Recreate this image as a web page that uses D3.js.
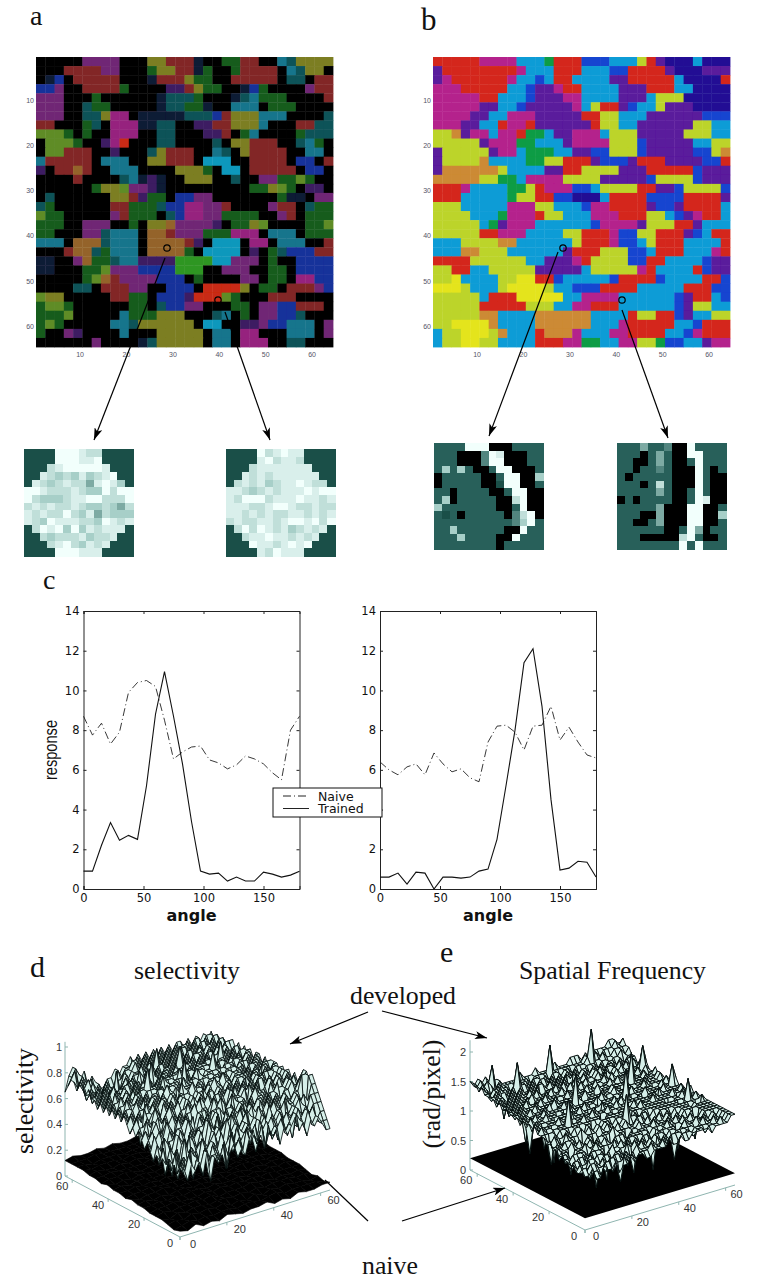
<!DOCTYPE html>
<html>
<head>
<meta charset="utf-8">
<script src="https://cdn.jsdelivr.net/npm/d3@7"></script>
<style>
  html, body { margin: 0; padding: 0; background: #fff; }
  svg { display: block; }
</style>
</head>
<body>
<div id="chart"></div>
<script>
// orientation maps, one letter per 2x2 block of map cells
const mapARows = [
"KKKKKmmmmKKKyyrrrnKKggrrKKctyyyy","KKKrrrrmmKKKgyyrrngKKgrrrrKctyyK","KnbKrrrrrKKKnrrryggKKrrrrrKttKrr","bbmKKrrrrgKKKKppryggKKnbgKKKKmrr",
"mmmKKKgKKKKKKntttgKKKntcgggKKKKr","mmmKKtggKKKKKnttggnKKcccKgggKKKK","mmmKKttyvvKnnnnntttbryyycccKKKKt","rrKKKgtKvvvnnttKKpprryyycKKKrrtt",
"lllgKgKKvvvKKttKKKpprKgcKKKKgttt","KlllgKKpvRKKKttKKKKtKyyrrrKKtcgK","KllrrrKKpKKKtyrrrKKctKyrrrrKKccK","crrrrrKcccKKyyrrrKCCCKKrrrrKbbKr",
"pKrrorKKcccKKKKyyygKCCKrrrrrKbbK","KKKKrKKKKtcnpnKKyyyKKtKKmmgglgKK","KKKKKKgyylmmpnKKKKKKKKKggylgKppK","KtKKKKKKyyrpggKbbmmKKKKKKKgnnKmm",
"tgKKKKKKrrgggtbbvvmmrKKKKmrrKtgg","lggKKKKKmrgggKtbvvmmggggKKmrKggg","gggKKmmmKKgKyyommmmpKggylKKKKggl","ggKKKmmtcccKoormmmgggvvvKcccKggg",
"cccKoootcccKoooorpKCCCKvvKcccKKr","KKKrootgcccKoooogKCCCCKpKgtbbbrr","nnKKmoggtccppppGGGGCCmmmKgKKbbbb","nnKKKgglmmmbbbbGGGKKmmmKKggKbbbb",
"KKKKKglormmmmbbbKgKKKKmmKggKvvbb","KKKKttKrrrmmKKbbbKRRRRyKggKrrrmb","lyyKKKKKrrggKbbbpRRRlgKKKrrrKKKK","gllgKKKKKKggKtbbmmKKKggKmmbbrrrK",
"ggglKKKKKcgggyyyKKKtcKgKmmbbtKKK","glgKKKKKcctyyyyyyKCCKKppmbbcccKm","gKKmpKKKKcKKKyyyyyKccKvvKKKcccKm","KKKKKKmKKKKntyyyyyKccKvvvKKttKKK"
];
const mapBRows = [
"RRRRRMMMMCCCGRRRBBBCCCYRPNNNCNNN","PRRRRRRRRMCCCRRRCCCBBRRRRPNNNPPP","PMRRRRRRMCCBCRRCCCCPPRRRRRCNNNNR","MMMRRRRRCCBPPMRRCCCCPPPRRRCCNNNN",
"MMMMMRRCCCBPPPMMCCCCPPPCYYYNNNNN","MMMMMPPCCBPPPPPMCYRRPBCCYPPPNNNN","MMMMPPCCMMMPPPPPRRYYCCCPPPPPPBBB","MMMPPCCRMMRPPPPPPRYYCCPPPPPPYYCC",
"YYOPMMCMMRGGCPPMMMCYYYPPPPPYYYCC","YYYYYPMMMGGCCCPMMMMYYYBPPPPPCCYY","PYYYYYPMMCGGGCCPPBBYYYBPPPPPBBYO","PYYYYOCCCCGGYYRRRPBBBPRRRPPPPBBR",
"POOOOOOYCCCCPPRRYYYYPPPRRRRRBPPP","OOOOOYYGGCMMMMYYYYPPPPPBYYYYBPPP","RRRMCCCCGGYRMMMBBCYYYYRRPPBYYYYB","RRRCCCCCGYYRRBBNNNCRRRRBBBBRRRRP",
"YYYCCCCCMMMYYCCCBMMRRRRPBBPRRRRC","YYYYCCCGMMMRYYCCCMMMRRRYYCBPMRRC","YYYYYCGPMMMCCCCCCBMMMMPYYYRRPCCC","YYYYYRRMMMCCCCYYRRRMBBYYRRRPBCRR",
"CCCYYYYOOCCCCCCYRRRMBBCYRRRCCCCR","CCCOOYYYCCCCCCPRRRYYYBBCRRRCCCMR","RRRRYYYYYYCCPPPMRYYYYBBRRCCCCBPP","YYRRCCYYYYYPPPPPCYYYYYMRCCCCRBPP",
"YYLCCCCYYLLRRBCCCCCBRRRRBCCCCRRB","LLLYCCCYLLLLYCCBBBRRRRCCCCCRRRBB","YYYYYCRRRLLLLLCCMMMMCCCCCCBPRRCB","YYYYYRRRRRYYYCCMMRRRCCCCCCBPYYCC",
"YYYYYOOCCCCOOOOOOCCCCRYYRRBPCCYY","YYLLLLOCCCCOOOOOOCCCMRRRRRCCBRRR","CYYLLLYOCCCROOOMCCCMMRRRRCCBMRRR","CYYLLYYCCCCRRRMMGGCCMMYYGBBCCPMM"
];
const mapAColors = {
  K: "#040404", n: "#0e1a36", p: "#3c1c62", m: "#702874", v: "#96247e", r: "#822828", R: "#c82a12",
  o: "#94642a", y: "#7c7e22", l: "#5f8c26", g: "#175c1f", G: "#2f9622", t: "#0c5258", c: "#18748c",
  C: "#0f98bc", b: "#18309a"
};
const mapBColors = {
  R: "#d4281c", M: "#b4208c", P: "#5a1a9c", B: "#1844d0", N: "#200c94", C: "#109cd6",
  G: "#0c9c44", Y: "#bcd42a", L: "#e4e41c", O: "#cc8a34"
};
const mapTicks = [10, 20, 30, 40, 50, 60];

// receptive field patches, grey level 0 (black) to 9 (white)
const patchALeft = ["22229998772222","22229998892222","22278999998222","22876768678922","28767877589862","99877787669799","97666788997779","78787787667657","87877976857666","87698887769878","27989696878882","22767778677822","22278976878222","22229998882222"];
const patchARight = ["22229789882222","22228978872222","22278888888222","22878788888822","27878678898772","88767878889899","87999788898878","88877899877877","88787877887878","78778878998979","27979878678782","22788988787822","22298878989222","22228798882222"];
const patchBLeft = ["33339990003333","33300049800033","33300049900033","36363003990003","03333300399006","03333300299003","33033330039900","36033333007900","63333333003900","32303333304790","33333333334693","33633333300933","33363333009333","33333333033333"];
const patchBRight = ["33353340093333","33303530099333","33003530039333","33033430009303","30333330009300","33303730009300","33333530039300","03033330039800","33333500099003","33300500099006","33003500099003","33333300395033","33300000793003","33333333939333"];

// orientation tuning curves
const angles = [0,7.5,15,22.5,30,37.5,45,52.5,60,67.5,75,82.5,90,97.5,105,112.5,120,127.5,135,142.5,150,157.5,165,172.5,180];
const naiveLeft = [8.7,7.75,8.35,7.3,7.9,9.9,10.4,10.5,10.2,8.5,6.55,6.9,7.15,7.2,6.5,6.35,6.05,6.25,6.7,6.55,6.3,5.85,5.5,8.0,8.7];
const trainedLeft = [0.9,0.9,2.2,3.35,2.45,2.7,2.5,5.2,8.8,10.95,8.7,6.3,3.4,0.9,0.75,0.8,0.4,0.6,0.4,0.4,0.85,0.75,0.6,0.7,0.9];
const naiveRight = [6.4,6.0,5.75,6.15,6.3,5.75,6.85,6.3,5.9,6.05,5.6,5.4,7.4,8.2,8.25,7.9,7.0,8.2,8.25,9.2,7.5,8.15,7.4,6.75,6.6];
const trainedRight = [0.6,0.6,0.8,0.25,0.85,0.8,0,0.6,0.6,0.55,0.6,0.9,1,2.5,5.2,8,11.4,12.1,9.2,4.5,0.95,1.05,1.4,1.35,0.6];
const responseTicks = [0,2,4,6,8,10,12,14];
const angleTicks = [0,50,100,150];
const legendLabels = ["Naive","Trained"];

// developed selectivity surface, z = 0.36 + digit * 0.058
const selectivityRows = [
"3213231403231342324534253424345342434322","2324132413324253425343524345342543534333","3132423142432425342545345342534534545344","2423143253243534253453453454345435454555",
"3142324325345342535454354535454545654666","1324253134435453645456453546455645456577","3243142543536454536545654654565465565788","2413254354546536455656456545656546566887",
"3254352435455654646564656456565656556778","2435443546546565654665564656656565667678","3524354556465654666546566565665667567667","4345465465654666556765765656766576667676",
"3456354656566756657665676675676657676767","4546546565657667656776576676767567677676","5465565676566765767667675767676776767677","4556576567675767676776767676767677667676",
"5647566576766767677676776767677676777677","4565667657676777676767876776777677676776","5656576767767676787767677876777767767677","6565667676767768776776776777677676777767",
"5656767677678767777677677767677767676777","6566576767767767687767776776776776777676","5657667676677677768777677767677767667767","6566767767776767776767876777776767776776",
"5657676677677687677776776777767776767677","6566676767766767776877677767676767776767","5657667676677676777767776777767767676776","6565767667676767676777676777676776767677",
"5656566776757667677667767676777667676776","6565676567665766767767677767676776767667","6656565666566576676776767676767667676776","7565656555655657667667676767676776767667",
"6656565455566576676776767676777676767666","7565654545555656667667676767666767676777","7656545454456566767676767676776767767666","6767554544545656676767676767667676676776",
"7676565454454656767676767676776767767666","7867654545445566776767676767677676676776","6787656454544656667676767676766767767766","5787675654455656676767676767677676767675"
];
// single cells that stick out of the selectivity sheet: column, row, height
const selectivitySpikes = [[5,2,.38],[9,4,.36],[13,1,.4],[17,6,.42],[22,3,.42],[26,8,.44],[31,4,.45],[3,9,.42],[7,12,.44],[12,10,.42],[16,13,.46],[21,11,.46],[27,13,.5],[34,10,.5],[37,6,.45],[2,16,.5],[6,19,.5],[11,17,.5],[15,20,.5],[19,16,.52],[24,19,.52],[30,16,.52],[35,19,.55],[10,24,.92],[18,22,.94],[27,24,.9],[14,28,.88],[23,30,.9],[32,28,.88],[8,32,.82],[20,34,.86]];
// developed spatial frequency surface, z = 0.6 + digit * 0.1 rad/pixel
const frequencyRows = [
"3342243342334344334444544544555554555566","4423324423443434445445454455545545556566","3334433244334345444544545554545555565566","3423343433443434454545454455555456556566",
"4332443344344354545445554554565565656566","3443323443453445454554455555655555566666","4334434334344454555545554565556565566666","4423343444453544455555455556565556566666",
"5334444345444455545455556555656566666666","4443344544545454555556555655656566656666","5344544445455556555556556556565666656676","5544454545534555565655665565666666666666",
"6454555445555656525656656656666666266676","5565465556565656656666565666666666666666","6556556566366656666666266666666656667666","6666566666666666266666666676666666666767",
"6762666666667666666626666766667666676666","7666676666266667666766666663666766666676","6766666766666666766666766666666667666666","7676266666676666662766667666663666676666",
"6766666676666676666666676666666766666667","7676667666666666762666666676666666667666","6766766666366766666676666266676666666676","7676666766666676666666766666666667666666",
"7767666676666766636666676676666666766676","7676676666766666676666666676626666676676","7767666766667666666676626667666676666666","8676766676666766667666667666666666667667",
"7767676666766636676666766666767666666666","8776766766667666666676666726666667667676","7867676676666766676666766666767666676667","8776767666766667666676667666676676667676",
"8877676766667666676766766676767676766667","8787767676676766667676676766766776767676","8878776767667677676767676676767677676777","9878877676766767667676767677676767767677",
"8987787767677676776767676766777677677878","9889878776767767767677677677787778778888","9898887877767776777767777777787787888989","9898988877777877787777877788878788889988"
];
const frequencySpikes = [[6,4,.5],[11,7,.45],[15,3,.6],[18,9,.5],[22,6,.55],[26,11,.6],[9,12,.55],[13,14,.4],[17,16,.5],[21,13,.45],[25,17,.5],[30,9,.6],[33,14,.55],[5,17,.6],[8,20,.7],[12,22,.55],[16,19,.45],[20,21,.6],[24,23,.55],[28,20,.5],[32,18,.7],[36,15,.7],[3,24,.8],[7,27,.8],[11,25,.65],[15,28,.7],[19,25,.6],[23,29,.75],[27,26,.6],[31,24,.75],[35,22,.7],[37,28,.8],[14,33,.85],[22,34,.85],[30,31,.8],[9,30,.75],[18,31,.7],[26,32,.8],[34,33,.9],[5,34,.9],[4,10,.6],[2,14,.7],[14,9,.5],[28,5,.7],[34,7,.7],[37,10,.75],[20,3,.55],[10,1,.6],[24,1,.7],[1,20,.75],[10,36,1.7],[20,38,1.75],[30,37,1.85],[5,38,1.7],[38,30,1.6],[38,20,1.55],[16,24,1.7],[26,20,1.7],[8,16,1.65],[32,26,1.7],[20,12,1.6],[36,12,1.55]];
// naive selectivity surface, a low flat sheet, z = digit * 0.015
const naiveSelectivityRows = [
"32423243233423243344","23434344344345344443","34354545343535454434","43545545545454555453","45455656455565545454",
"45565556565656565555","55656566565565656565","56565665656566565665","65667656665656766566","56676666766665666656",
"66767676667676666766","67677667676676776767","76767767776767677677","67787677687767768767","77877778777877877877",
"78778787878778787787","87888788788878887878","88788878888788788887","88898888898889888898","89889898898998898989"
];
const naiveFrequency = 0.2;

const angleMax = 180;
const responseMax = 14;
const gridMax = 64;
const surfaceTicks = [20, 40, 60];

const svg = d3.select("#chart").append("svg").attr("width", 764).attr("height", 1280);

const defs = svg.append("defs");
defs.append("marker").attr("id", "head").attr("viewBox", "0 0 12 8").attr("refX", 12).attr("refY", 4)
  .attr("markerUnits", "userSpaceOnUse").attr("markerWidth", 13).attr("markerHeight", 8).attr("orient", "auto")
  .append("path").attr("d", "M0,0L12,4L0,8L3,4Z").attr("fill", "#000");
defs.append("filter").attr("id", "soft").attr("x", 0).attr("y", 0).attr("width", 1).attr("height", 1)
  .append("feGaussianBlur").attr("stdDeviation", 0.7);

function serifText(x, y, text, size) {
  return svg.append("text").attr("x", x).attr("y", y).attr("font-family", "Liberation Serif")
    .attr("font-size", size).attr("fill", "#111").text(text);
}

function arrow(x1, y1, x2, y2, head) {
  const l = svg.append("line").attr("x1", x1).attr("y1", y1).attr("x2", x2).attr("y2", y2)
    .attr("stroke", "#000").attr("stroke-width", 1.2);
  if (head !== false) l.attr("marker-end", "url(#head)");
}

// panels a and b
function drawMap(rows, left, colors) {
  const x = d3.scaleBand().domain(d3.range(32)).range([left, left + 297]);
  const y = d3.scaleBand().domain(d3.range(32)).range([57, 347]);
  const g = svg.append("g").attr("filter", "url(#soft)");
  rows.forEach((row, j) => {
    g.selectAll(null).data(row.split("")).join("rect")
      .attr("x", (d, i) => x(i)).attr("y", y(j))
      .attr("width", x.bandwidth() + 0.4).attr("height", y.bandwidth() + 0.4)
      .attr("fill", d => colors[d]);
  });
  const tx = d3.scaleLinear().domain([0.5, 64.5]).range([left, left + 297]);
  const ty = d3.scaleLinear().domain([0.5, 64.5]).range([57, 347]);
  const tick = svg.append("g").attr("font-family", "Liberation Sans").attr("font-size", 7).attr("fill", "#556");
  tick.selectAll(".xl").data(mapTicks).join("text").attr("x", tx).attr("y", 357).attr("text-anchor", "middle").text(d => d);
  tick.selectAll(".yl").data(mapTicks).join("text").attr("x", left - 2).attr("y", d => ty(d) + 2.5).attr("text-anchor", "end").text(d => d);
}
drawMap(mapARows, 36, mapAColors);
drawMap(mapBRows, 433, mapBColors);

// grey patches
const patchColor = d3.scaleLinear().domain([0, 2, 3, 6, 9]).range(["#000000", "#1a4f48", "#28605a", "#a7cfc8", "#f2fffc"]);
function drawPatch(rows, left, top, bottom) {
  const x = d3.scaleBand().domain(d3.range(14)).range([left, left + 109]);
  const y = d3.scaleBand().domain(d3.range(14)).range([top, bottom]);
  const g = svg.append("g").attr("shape-rendering", "crispEdges");
  rows.forEach((row, j) => {
    g.selectAll(null).data(row.split("")).join("rect")
      .attr("x", (d, i) => x(i)).attr("y", y(j))
      .attr("width", x.bandwidth() + 0.5).attr("height", y.bandwidth() + 0.5)
      .attr("fill", d => patchColor(+d));
  });
}
drawPatch(patchALeft, 24, 449, 556);
drawPatch(patchARight, 226, 449, 556);
drawPatch(patchBLeft, 434, 443, 549);
drawPatch(patchBRight, 617, 443, 549);

// circles and arrows down to the patches
[[167, 248], [218, 300], [563, 248], [622, 300]].forEach(c => {
  svg.append("circle").attr("cx", c[0]).attr("cy", c[1]).attr("r", 3.2).attr("fill", "none").attr("stroke", "#000").attr("stroke-width", 1.2);
});
arrow(165, 258, 94, 440);
arrow(225, 312, 270, 440);
arrow(558, 252, 489, 436);
arrow(622, 310, 668, 438);

serifText(30, 25, "a", 28);
serifText(421, 30, "b", 31);
serifText(43, 589, "c", 28);
serifText(30, 977, "d", 30);
serifText(440, 962, "e", 30);
serifText(134, 979, "selectivity", 25.8);
serifText(519, 979, "Spatial Frequency", 25.8);
serifText(350, 1004, "developed", 25.8);
serifText(362, 1274, "naive", 25.8);

// panel c
function drawCurves(left, right, naive, trained) {
  const x = d3.scaleLinear().domain([0, angleMax]).range([left, right]);
  const y = d3.scaleLinear().domain([0, responseMax]).range([889, 611]);
  const g = svg.append("g");
  const axisFont = ax => ax.attr("font-family", "DejaVu Sans").attr("font-size", 11.5)
    .call(s => s.selectAll("path,line").attr("stroke", "#222").attr("stroke-width", 1))
    .call(s => s.selectAll("text").attr("fill", "#111"));
  g.append("g").attr("transform", "translate(0,889)")
    .call(d3.axisBottom(x).tickValues(angleTicks).tickSize(-3).tickPadding(5).tickFormat(d3.format("d"))).call(axisFont);
  g.append("g").attr("transform", `translate(0,611)`)
    .call(d3.axisTop(x).tickValues(angleTicks).tickSize(-3).tickFormat("")).call(axisFont);
  g.append("g").attr("transform", `translate(${left},0)`)
    .call(d3.axisLeft(y).tickValues(responseTicks).tickSize(-3).tickPadding(4)).call(axisFont);
  g.append("g").attr("transform", `translate(${right},0)`)
    .call(d3.axisRight(y).tickValues(responseTicks).tickSize(-3).tickFormat("")).call(axisFont);
  const line = d3.line().x((d, i) => x(angles[i])).y(d => y(d));
  g.append("path").attr("d", line(naive)).attr("fill", "none").attr("stroke", "#222").attr("stroke-width", 0.9).attr("stroke-dasharray", "8,3,1,3");
  g.append("path").attr("d", line(trained)).attr("fill", "none").attr("stroke", "#111").attr("stroke-width", 1.1);
  g.append("text").attr("x", (left + right) / 2).attr("y", 920.5).attr("text-anchor", "middle")
    .attr("font-family", "DejaVu Sans").attr("font-size", 16).attr("font-weight", "bold")
    .attr("textLength", 50).attr("lengthAdjust", "spacingAndGlyphs").attr("fill", "#111").text("angle");
}
drawCurves(83.5, 299.5, naiveLeft, trainedLeft);
drawCurves(380, 596, naiveRight, trainedRight);
svg.append("text").attr("transform", "translate(57,750) rotate(-90)").attr("text-anchor", "middle")
  .attr("font-family", "Liberation Sans").attr("font-size", 18)
  .attr("textLength", 60).attr("lengthAdjust", "spacingAndGlyphs").attr("fill", "#111").text("response");

const legend = svg.append("g");
legend.append("rect").attr("x", 273).attr("y", 788).attr("width", 109).attr("height", 29).attr("fill", "#fff").attr("stroke", "#111").attr("stroke-width", 1);
legend.selectAll("line").data(legendLabels).join("line")
  .attr("x1", 283).attr("x2", 309).attr("y1", (d, i) => 796 + i * 12.5).attr("y2", (d, i) => 796 + i * 12.5)
  .attr("stroke", "#222").attr("stroke-width", 1).attr("stroke-dasharray", (d, i) => i === 0 ? "8,3,1,3" : null);
legend.selectAll("text").data(legendLabels).join("text")
  .attr("x", 318).attr("y", (d, i) => 800.5 + i * 12.5)
  .attr("font-family", "DejaVu Sans").attr("font-size", 12.5).attr("fill", "#111").text(d => d);

// panels d and e, oblique view of a 64x64 grid
function makeProjection(origin, rightEnd, leftEnd, zPerUnit) {
  const xx = d3.scaleLinear().domain([0, gridMax]).range([0, rightEnd[0] - origin[0]]);
  const xy = d3.scaleLinear().domain([0, gridMax]).range([0, rightEnd[1] - origin[1]]);
  const yx = d3.scaleLinear().domain([0, gridMax]).range([0, leftEnd[0] - origin[0]]);
  const yy = d3.scaleLinear().domain([0, gridMax]).range([0, leftEnd[1] - origin[1]]);
  return (a, b, z) => [origin[0] + xx(a) + yx(b), origin[1] + xy(a) + yy(b) - z * zPerUnit];
}

function drawSurface(project, rows, zOf, spikes, fill, stroke, width) {
  const heights = rows.map(r => r.split("").map(c => zOf(+c)));
  spikes.forEach(s => { heights[s[1]][s[0]] = s[2]; });
  const n = heights.length;
  const m = heights[0].length;
  const gx = d3.scaleLinear().domain([0, m - 1]).range([0, gridMax]);
  const gy = d3.scaleLinear().domain([0, n - 1]).range([0, gridMax]);
  const quads = [];
  for (let j = n - 2; j >= 0; j--) {
    for (let i = m - 2; i >= 0; i--) {
      quads.push([[i, j], [i + 1, j], [i + 1, j + 1], [i, j + 1]].map(c => project(gx(c[0]), gy(c[1]), heights[c[1]][c[0]])));
    }
  }
  const line = d3.line().curve(d3.curveLinearClosed);
  svg.append("g").selectAll("path").data(quads).join("path")
    .attr("d", line).attr("fill", fill).attr("stroke", stroke).attr("stroke-width", width).attr("stroke-linejoin", "round");
}

function drawSurfaceAxes(project, zTicks, zTop, leftOff, rightOff, zLabelX) {
  const g = svg.append("g").attr("stroke", "#8fb5b0").attr("fill", "none").attr("stroke-width", 1);
  const path = d3.line();
  g.append("path").attr("d", path([project(0, 0, 0), project(gridMax, 0, 0)]));
  g.append("path").attr("d", path([project(0, 0, 0), project(0, gridMax, 0)]));
  g.append("path").attr("d", path([project(0, gridMax, 0), project(0, gridMax, zTop)]));
  const t = svg.append("g").attr("font-family", "Liberation Sans").attr("font-size", 11).attr("fill", "#333");
  const both = [0].concat(surfaceTicks);
  both.forEach(v => {
    const a = project(v, 0, 0);
    const b = project(0, v, 0);
    t.append("text").attr("x", a[0] + rightOff[0]).attr("y", a[1] + rightOff[1]).attr("text-anchor", "middle").text(v);
    t.append("text").attr("x", b[0] + leftOff[0]).attr("y", b[1] + leftOff[1]).attr("text-anchor", "middle").text(v);
    g.append("path").attr("d", path([a, [a[0], a[1] + 3]]));
    g.append("path").attr("d", path([b, [b[0], b[1] + 3]]));
  });
  zTicks.forEach(v => {
    const p = project(0, gridMax, v);
    t.append("text").attr("x", zLabelX).attr("y", p[1] + 4).attr("text-anchor", "end").text(v);
    g.append("path").attr("d", path([p, [p[0] + 3, p[1]]]));
  });
}

const projectD = makeProjection([180, 1237], [330, 1190], [65, 1176], 129);
drawSurfaceAxes(projectD, [0, 0.2, 0.4, 0.6, 0.8, 1], 1.04, [-10, 10], [13, 11], 62);
drawSurface(projectD, naiveSelectivityRows, d => d * 0.015, [], "#000", "#000", 0.6);
drawSurface(projectD, selectivityRows, d => 0.36 + d * 0.058, selectivitySpikes, "#d6efe9", "#06100f", 0.85);

const projectE = makeProjection([585, 1230], [735, 1185], [470, 1170], 59);
drawSurfaceAxes(projectE, [0, 0.5, 1, 1.5, 2], 2.2, [-11, 10], [11, 10], 466);
const sheet = [[0, 0], [gridMax, 0], [gridMax, gridMax], [0, gridMax]].map(c => projectE(c[0], c[1], naiveFrequency));
svg.append("path").attr("d", d3.line().curve(d3.curveLinearClosed)(sheet)).attr("fill", "#000");
drawSurface(projectE, frequencyRows, d => 0.6 + d * 0.1, frequencySpikes, "#d6efe9", "#06100f", 1);

svg.append("text").attr("transform", "translate(33,1101) rotate(-90)").attr("text-anchor", "middle")
  .attr("font-family", "Liberation Serif").attr("font-size", 25.8).attr("fill", "#111").text("selectivity");
svg.append("text").attr("transform", "translate(440,1094) rotate(-90)").attr("text-anchor", "middle")
  .attr("font-family", "Liberation Serif").attr("font-size", 25.8).attr("fill", "#111").text("(rad/pixel)");

arrow(368, 1012, 290, 1044);
arrow(382, 1011, 487, 1038);
arrow(368, 1221, 325, 1180, false);
arrow(402, 1221, 505, 1188);
</script>
</body>
</html>
